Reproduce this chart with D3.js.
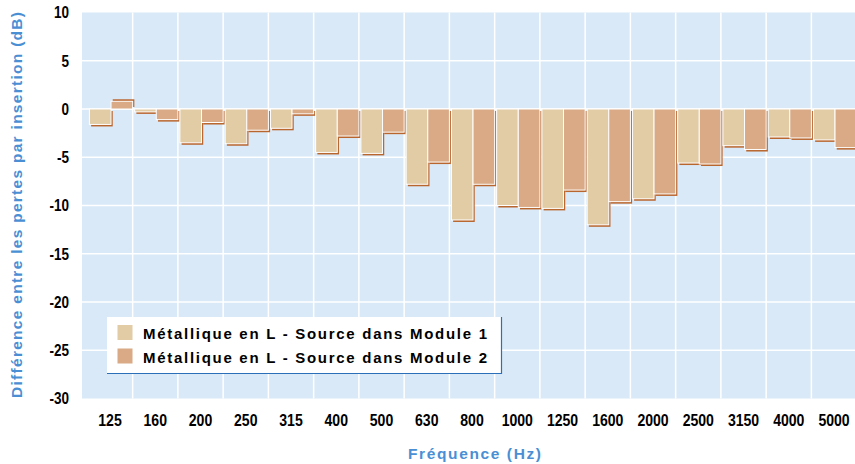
<!DOCTYPE html>
<html>
<head>
<meta charset="utf-8">
<script src="https://cdn.jsdelivr.net/npm/d3@7"></script>
<style>
  body { margin: 0; background: #fff; }
  svg { display: block; }
</style>
</head>
<body>
<div id="chart"></div>
<script>
// frequencies (Hz) on the x axis
const categories = ["125", "160", "200", "250", "315", "400", "500", "630", "800",
    "1000", "1250", "1600", "2000", "2500", "3150", "4000", "5000"];

// difference in insertion loss (dB)
const module1 = [-1.6, -0.3, -3.5, -3.6, -2.0, -4.5, -4.6, -7.8, -11.5,
    -10.0, -10.3, -12.0, -9.3, -5.6, -3.8, -2.9, -3.2];
const module2 = [0.8, -1.1, -1.4, -2.2, -0.5, -2.8, -2.4, -5.5, -7.8,
    -10.2, -8.4, -9.6, -8.8, -5.7, -4.2, -3.0, -4.0];

const seriesNames = ["Métallique en L - Source dans Module 1", "Métallique en L - Source dans Module 2"];
const yTicks = [10, 5, 0, -5, -10, -15, -20, -25, -30];

const W = 855, H = 464;
const plot = { left: 82, right: 855, top: 12.5, bottom: 398.5 };

const colors = ["#e1cca6", "#d9aa85"];
const shadowColor = "#b9652e";
const blue = "#4a8fd4";
const font = "'Liberation Sans', Arial, Helvetica, sans-serif";

const svg = d3.select("#chart").append("svg")
    .attr("width", W)
    .attr("height", H);

const x = d3.scaleBand()
    .domain(categories)
    .range([87.4, 87.4 + 17 * 45.25]);

const y = d3.scaleLinear()
    .domain([-30, 10])
    .range([plot.bottom, plot.top]);

// background
svg.append("rect")
    .attr("x", plot.left)
    .attr("y", plot.top)
    .attr("width", plot.right - plot.left)
    .attr("height", plot.bottom - plot.top)
    .attr("fill", "#d9e9f7");

// grid
svg.append("g")
    .selectAll("line")
    .data(yTicks.filter(d => d > -30 && d < 10))
    .join("line")
    .attr("x1", plot.left)
    .attr("x2", plot.right)
    .attr("y1", d => y(d))
    .attr("y2", d => y(d))
    .attr("stroke", "#fff")
    .attr("stroke-width", 1.5);

svg.append("g")
    .selectAll("line")
    .data(categories.slice(1))
    .join("line")
    .attr("x1", d => x(d))
    .attr("x2", d => x(d))
    .attr("y1", plot.top)
    .attr("y2", plot.bottom)
    .attr("stroke", "#fff")
    .attr("stroke-width", 1.5);

// bars
const barW = (x.bandwidth() - 2) / 2;
const bars = [];
categories.forEach((c, i) => {
    bars.push({ c: c, s: 0, v: module1[i], x: x(c) + 2 });
    bars.push({ c: c, s: 1, v: module2[i], x: x(c) + 2 + barW });
});

svg.append("g")
    .selectAll("rect")
    .data(bars)
    .join("rect")
    .attr("x", d => d.x + 1.7)
    .attr("y", d => Math.min(y(d.v), y(0)) + (d.v < 0 ? 2 : -2))
    .attr("width", barW)
    .attr("height", d => Math.abs(y(d.v) - y(0)))
    .attr("fill", shadowColor);

svg.append("g")
    .selectAll("rect")
    .data(bars)
    .join("rect")
    .attr("x", d => d.x)
    .attr("y", d => Math.min(y(d.v), y(0)))
    .attr("width", barW)
    .attr("height", d => Math.abs(y(d.v) - y(0)))
    .attr("fill", d => colors[d.s])
    .attr("stroke", "#fff")
    .attr("stroke-width", 1);

// y axis labels (condensed by a horizontal squeeze)
svg.append("g")
    .selectAll("text")
    .data(yTicks)
    .join("text")
    .attr("transform", d => `translate(69,${y(d)}) scale(0.82,1)`)
    .attr("dy", "0.36em")
    .attr("text-anchor", "end")
    .attr("font-family", font)
    .attr("font-weight", "bold")
    .attr("font-size", 16.5)
    .attr("fill", "#000")
    .text(d => d);

// x axis labels
svg.append("g")
    .selectAll("text")
    .data(categories)
    .join("text")
    .attr("transform", d => `translate(${x(d) + x.bandwidth() / 2},420) scale(0.88,1)`)
    .attr("dy", "0.36em")
    .attr("text-anchor", "middle")
    .attr("font-family", font)
    .attr("font-weight", "bold")
    .attr("font-size", 16)
    .attr("fill", "#000")
    .text(d => d);

// axis titles
svg.append("text")
    .attr("x", 474.5)
    .attr("y", 459)
    .attr("text-anchor", "middle")
    .attr("font-family", font)
    .attr("font-weight", "bold")
    .attr("font-size", 15.5)
    .attr("fill", blue)
    .attr("textLength", 133)
    .attr("lengthAdjust", "spacing")
    .text("Fréquence (Hz)");

svg.append("text")
    .attr("transform", "translate(22,205) rotate(-90)")
    .attr("text-anchor", "middle")
    .attr("font-family", font)
    .attr("font-weight", "bold")
    .attr("font-size", 15.5)
    .attr("fill", blue)
    .attr("textLength", 386)
    .attr("lengthAdjust", "spacing")
    .text("Différence entre les pertes par insertion (dB)");

// legend
const legend = svg.append("g").attr("transform", "translate(107,317)");
legend.append("rect")
    .attr("width", 394)
    .attr("height", 56)
    .attr("fill", "#fff");
legend.append("path")
    .attr("d", "M0,56.5H394.5V0")
    .attr("fill", "none")
    .attr("stroke", "#2a6fb8")
    .attr("stroke-width", 1.2);

seriesNames.forEach((name, i) => {
    legend.append("rect")
        .attr("x", 10.5)
        .attr("y", 8 + i * 23.5)
        .attr("width", 15)
        .attr("height", 15)
        .attr("fill", colors[i]);
    legend.append("text")
        .attr("x", 36)
        .attr("y", 21.5 + i * 24)
        .attr("font-family", font)
        .attr("font-weight", "bold")
        .attr("font-size", 15)
        .attr("fill", "#000")
        .attr("textLength", 344)
        .attr("lengthAdjust", "spacing")
        .text(name);
});
</script>
</body>
</html>
